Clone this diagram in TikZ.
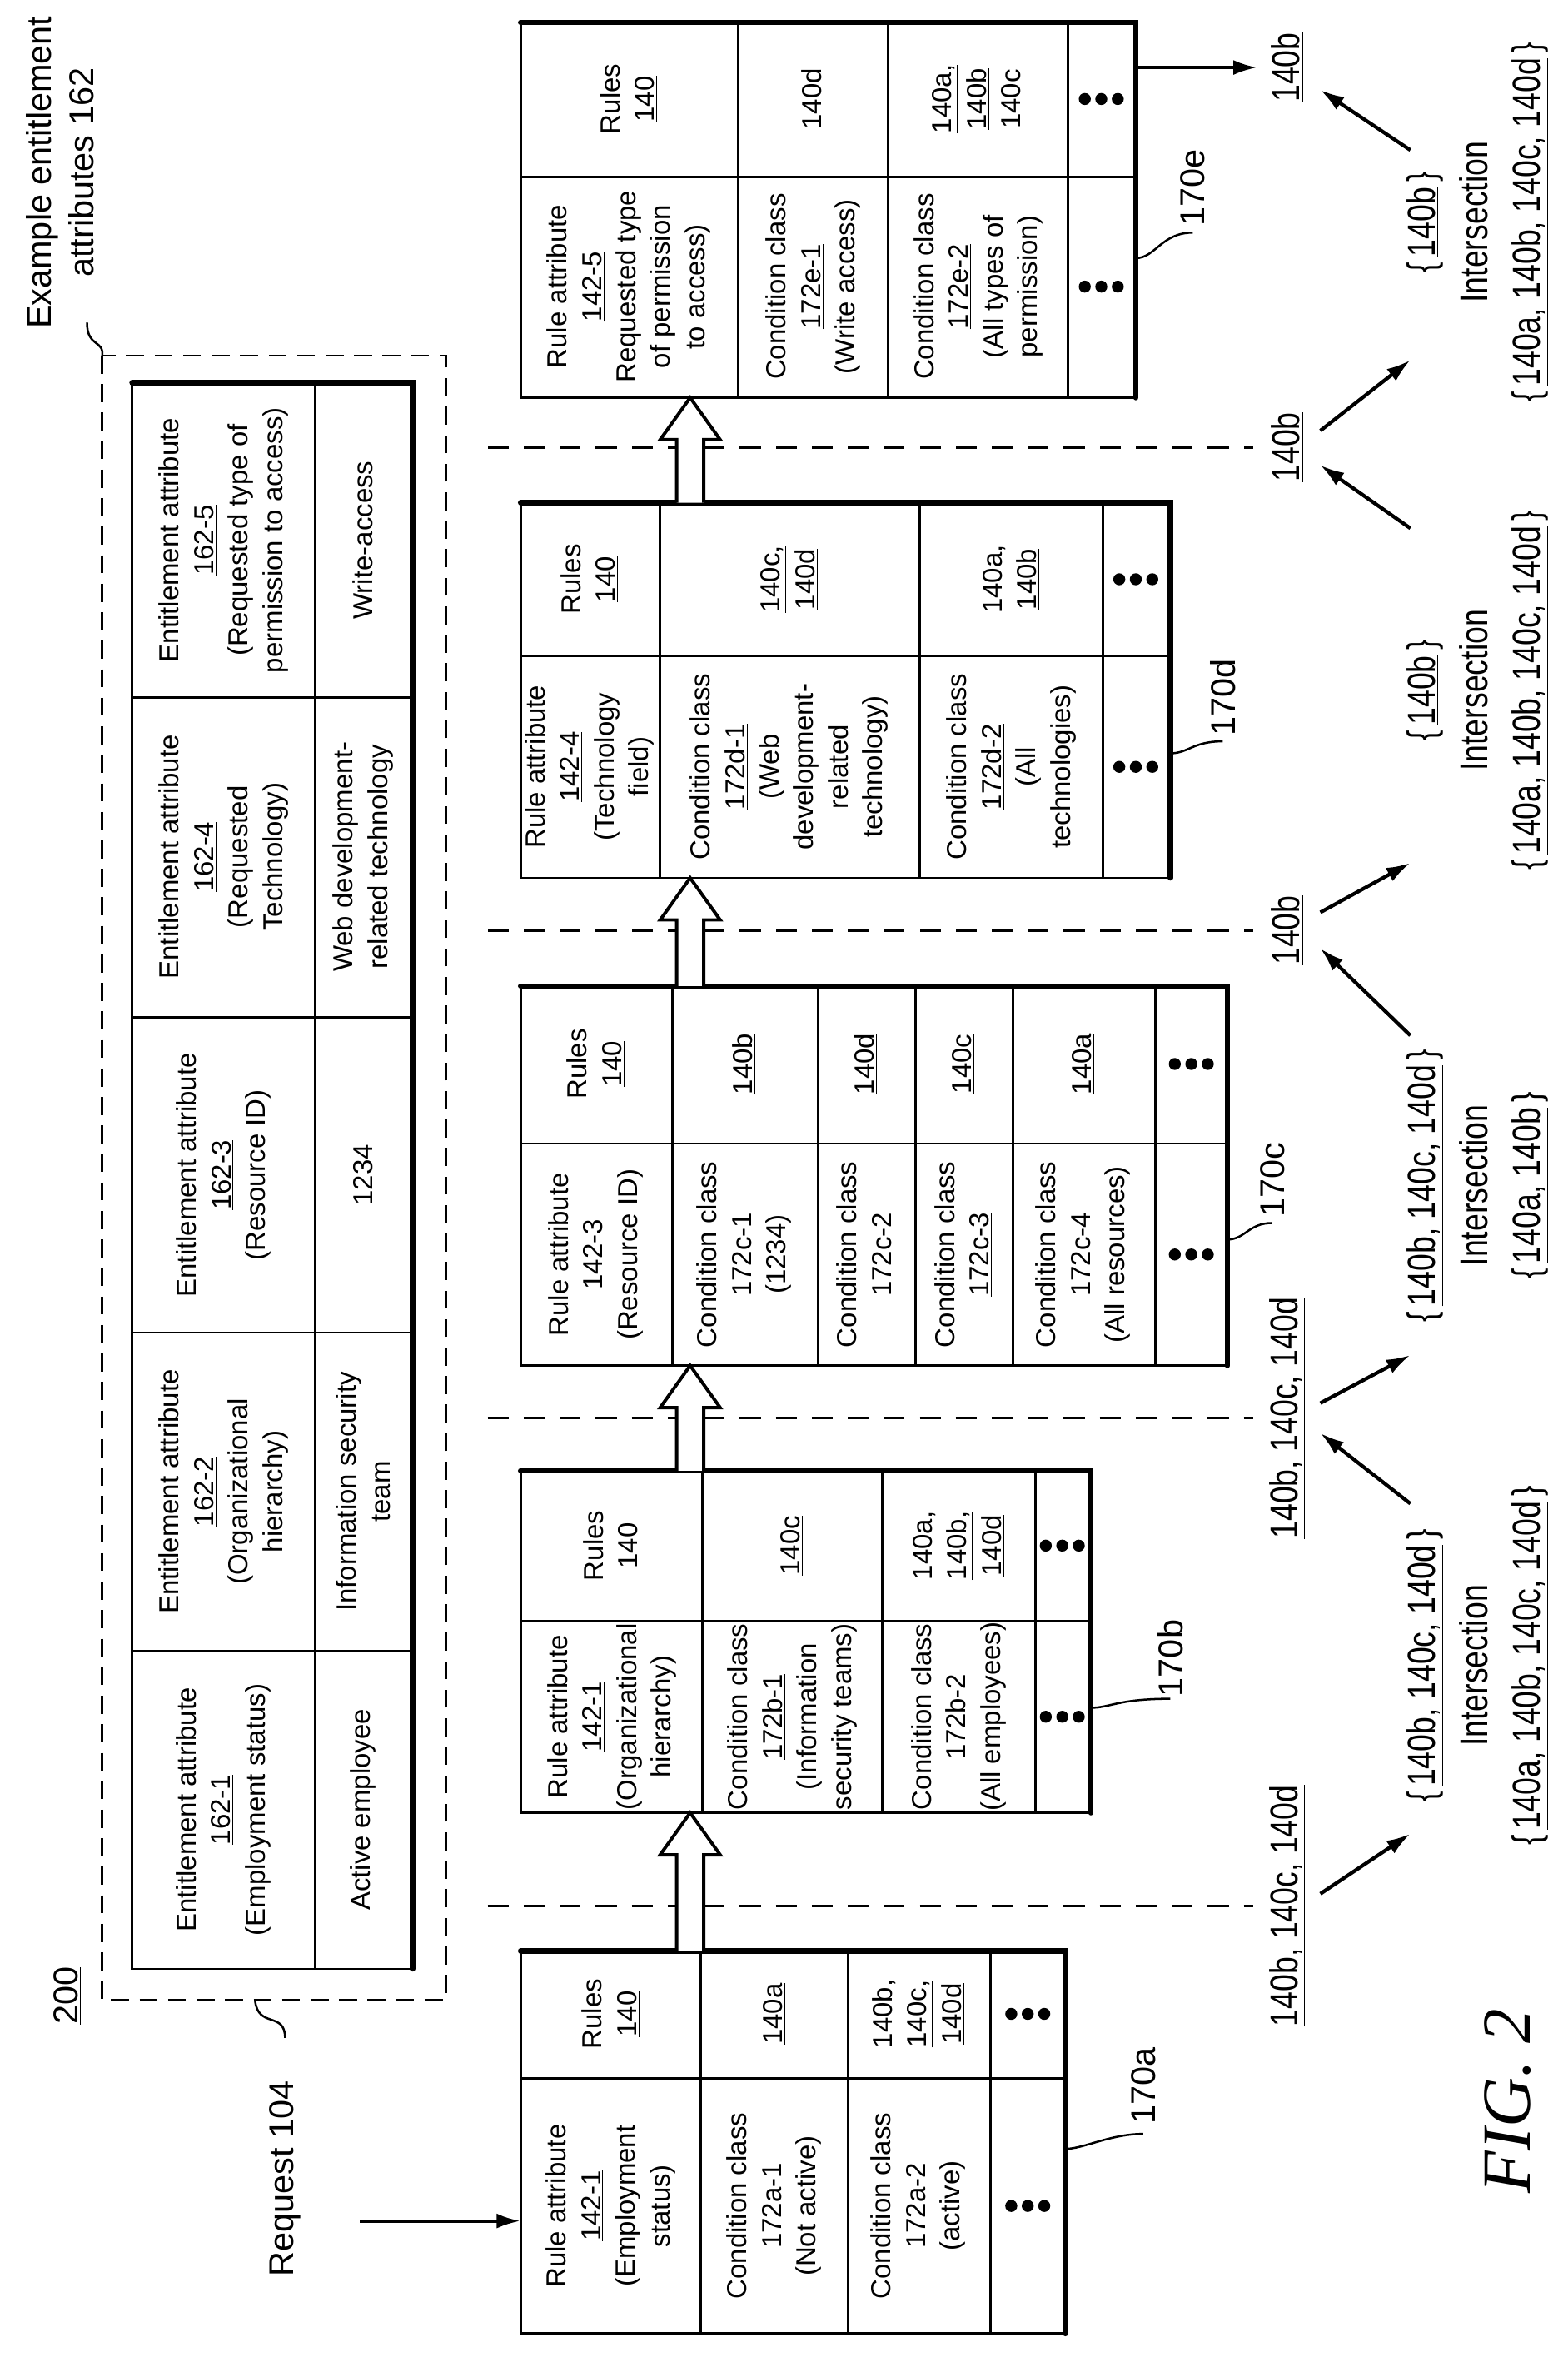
\documentclass[tikz,border=0pt]{standalone}
\usepackage{fontspec}
\usetikzlibrary{arrows.meta}
\setmainfont{Liberation Sans}
\newfontfamily\figfont{Liberation Serif}
\newcommand\nar[1]{\scalebox{0.8}[1]{#1}}
\newcommand\myu[1]{\underline{#1}}
\newcommand\blockarr[2]{\draw[line width=2.2pt,fill=white,line join=miter] (451,#1) -- (451,#2+28) -- (440,#2+28) -- (460,#2) -- (480,#2+28) -- (469,#2+28) -- (469,#1);}
\begin{document}
\begin{tikzpicture}[x=1pt,y=-1pt,
  cell/.style={rotate=90,align=center,font=\fontsize{18.3}{23}\selectfont,inner sep=0},
  lab/.style={rotate=90,align=center,font=\fontsize{26}{35}\selectfont,inner sep=1},
  thin/.style={line width=1.6pt},
  thk/.style={line width=3.6pt,line cap=round},
  arr/.style={line width=2.4pt,-{Latex[length=16pt,width=10pt]}},
  lead/.style={line width=1.4pt}]
\useasboundingbox (0,0) rectangle (1045,1574);
% ---------- 200, request ----------
\node[lab,font=\fontsize{23}{28}\selectfont] (n200) at (45,1330) {\myu{200}};
\node[lab,font=\fontsize{23}{28}\selectfont] (req) at (190,1452) {Request 104};
\coordinate (reqs) at (240,1480);
\coordinate (reqe) at (347,1480);
\draw[arr] (reqs) -- (reqe);
\draw[lead] (190,1358) .. controls (190,1340) and (172,1352) .. (170,1333);
% ---------- entitlement box ----------
\node[lab,font=\fontsize{23}{28}\selectfont] (ex) at (40,115) {Example entitlement\\attributes 162};
\draw[lead] (58,215) .. controls (58,232) and (70,226) .. (68,238);
\draw[line width=1.6pt,dash pattern=on 12pt off 7pt] (68,237) rectangle (297,1333);
\draw[thin] (88,255) rectangle (275,1312);
\draw[thin] (210,255) -- (210,1312);
\foreach \b in {1100,888,678,465} \draw[thin] (88,\b) -- (275,\b);
\draw[thk] (88,255) -- (275,255) -- (275,1312);
\node[cell] (e1h) at (149,1206) {Entitlement attribute\\\myu{162-1}\\(Employment status)};
\node[cell] (e1v) at (242,1206) {Active employee};
\node[cell] (e2h) at (149,994) {Entitlement attribute\\\myu{162-2}\\(Organizational\\hierarchy)};
\node[cell] (e2v) at (242,994) {Information security\\team};
\node[cell] (e3h) at (149,783) {Entitlement attribute\\\myu{162-3}\\(Resource ID)};
\node[cell] (e3v) at (242,783) {1234};
\node[cell] (e4h) at (149,571) {Entitlement attribute\\\myu{162-4}\\(Requested\\Technology)};
\node[cell] (e4v) at (242,571) {Web development-\\related technology};
\node[cell] (e5h) at (149,360) {Entitlement attribute\\\myu{162-5}\\(Requested type of\\permission to access)};
\node[cell] (e5v) at (242,360) {Write-access};
% ---------- dashed separators ----------
\foreach \y in {1270,945,620,298} \draw[line width=1.8pt,dash pattern=on 14pt off 10pt] (325,\y) -- (835,\y);
% ---------- table 170a ----------
\draw[thin] (347,1300) rectangle (710,1555);
\draw[thin] (347,1385) -- (710,1385);
\foreach \b in {467,565,660} \draw[thin] (\b,1300) -- (\b,1555);
\draw[thk] (347,1300) -- (710,1300) -- (710,1555);
\node[cell] (a0l) at (407,1470) {Rule attribute\\\myu{142-1}\\(Employment\\status)};
\node[cell] (a0r) at (407,1342) {Rules\\\myu{140}};
\node[cell] (a1l) at (516,1470) {Condition class\\\myu{172a-1}\\(Not active)};
\node[cell] (a1r) at (516,1342) {\myu{140a}};
\node[cell] (a2l) at (612,1470) {Condition class\\\myu{172a-2}\\(active)};
\node[cell] (a2r) at (612,1342) {\myu{140b,}\\\myu{140c,}\\\myu{140d}};
\foreach \d in {-11,0,11} {\fill (685+\d,1470) circle (4); \fill (685+\d,1342) circle (4);}
% ---------- table 170b ----------
\draw[thin] (347,980) rectangle (727,1208);
\draw[thin] (347,1080) -- (727,1080);
\foreach \b in {468,588,690} \draw[thin] (\b,980) -- (\b,1208);
\draw[thk] (347,980) -- (727,980) -- (727,1208);
\node[cell] (b0l) at (408,1144) {Rule attribute\\\myu{142-1}\\(Organizational\\hierarchy)};
\node[cell] (b0r) at (408,1030) {Rules\\\myu{140}};
\node[cell] (b1l) at (528,1144) {Condition class\\\myu{172b-1}\\(Information\\security teams)};
\node[cell] (b1r) at (528,1030) {\myu{140c}};
\node[cell] (b2l) at (639,1144) {Condition class\\\myu{172b-2}\\(All employees)};
\node[cell] (b2r) at (639,1030) {\myu{140a,}\\\myu{140b,}\\\myu{140d}};
\foreach \d in {-11,0,11} {\fill (708+\d,1144) circle (4); \fill (708+\d,1030) circle (4);}
% ---------- table 170c ----------
\draw[thin] (347,657) rectangle (818,910);
\draw[thin] (347,762) -- (818,762);
\foreach \b in {448,545,610,675,770} \draw[thin] (\b,657) -- (\b,910);
\draw[thk] (347,657) -- (818,657) -- (818,910);
\node[cell] (c0l) at (397,836) {Rule attribute\\\myu{142-3}\\(Resource ID)};
\node[cell] (c0r) at (397,709) {Rules\\\myu{140}};
\node[cell] (c1l) at (496,836) {Condition class\\\myu{172c-1}\\(1234)};
\node[cell] (c1r) at (496,709) {\myu{140b}};
\node[cell] (c2l) at (577,836) {Condition class\\\myu{172c-2}};
\node[cell] (c2r) at (577,709) {\myu{140d}};
\node[cell] (c3l) at (642,836) {Condition class\\\myu{172c-3}};
\node[cell] (c3r) at (642,709) {\myu{140c}};
\node[cell] (c4l) at (722,836) {Condition class\\\myu{172c-4}\\(All resources)};
\node[cell] (c4r) at (722,709) {\myu{140a}};
\foreach \d in {-11,0,11} {\fill (794+\d,836) circle (4); \fill (794+\d,709) circle (4);}
% ---------- table 170d ----------
\draw[thin] (347,335) rectangle (780,585);
\draw[thin] (347,437) -- (780,437);
\foreach \b in {440,613,735} \draw[thin] (\b,335) -- (\b,585);
\draw[thk] (347,335) -- (780,335) -- (780,585);
\node[cell] (d0l) at (393,511) {Rule attribute\\\myu{142-4}\\(Technology\\field)};
\node[cell] (d0r) at (393,386) {Rules\\\myu{140}};
\node[cell] (d1l) at (526,511) {Condition class\\\myu{172d-1}\\(Web\\development-\\related\\technology)};
\node[cell] (d1r) at (526,386) {\myu{140c,}\\\myu{140d}};
\node[cell] (d2l) at (674,511) {Condition class\\\myu{172d-2}\\(All\\technologies)};
\node[cell] (d2r) at (674,386) {\myu{140a,}\\\myu{140b}};
\foreach \d in {-11,0,11} {\fill (757+\d,511) circle (4); \fill (757+\d,386) circle (4);}
% ---------- table 170e ----------
\draw[thin] (347,15) rectangle (757,265);
\draw[thin] (347,118) -- (757,118);
\foreach \b in {492,592,712} \draw[thin] (\b,15) -- (\b,265);
\draw[thk] (347,15) -- (757,15) -- (757,265);
\node[cell] (f0l) at (419,191) {Rule attribute\\\myu{142-5}\\Requested type\\of permission\\to access)};
\node[cell] (f0r) at (419,66) {Rules\\\myu{140}};
\node[cell] (f1l) at (542,191) {Condition class\\\myu{172e-1}\\(Write access)};
\node[cell] (f1r) at (542,66) {\myu{140d}};
\node[cell] (f2l) at (652,191) {Condition class\\\myu{172e-2}\\(All types of\\permission)};
\node[cell] (f2r) at (652,66) {\myu{140a,}\\\myu{140b}\\\myu{140c}};
\foreach \d in {-11,0,11} {\fill (734+\d,191) circle (4); \fill (734+\d,66) circle (4);}
% ---------- block arrows ----------
\blockarr{1300}{1208}
\blockarr{980}{910}
\blockarr{657}{585}
\blockarr{335}{265}
% ---------- table labels ----------
\node[lab,font=\fontsize{23}{28}\selectfont] (la) at (762,1390) {170a};
\draw[lead] (710,1432) .. controls (722,1432) and (740,1422) .. (762,1422);
\node[lab,font=\fontsize{23}{28}\selectfont] (lb) at (780,1105) {170b};
\draw[lead] (727,1138) .. controls (740,1138) and (745,1132) .. (780,1132);
\node[lab,font=\fontsize{23}{28}\selectfont] (lc) at (848,786) {170c};
\draw[lead] (818,826) .. controls (830,826) and (832,815) .. (848,815);
\node[lab,font=\fontsize{23}{28}\selectfont] (ld) at (815,465) {170d};
\draw[lead] (780,502) .. controls (792,502) and (795,494) .. (815,494);
\node[lab,font=\fontsize{23}{28}\selectfont] (le) at (795,125) {170e};
\draw[lead] (757,172) .. controls (770,172) and (774,155) .. (795,155);
% ---------- bottom labels ----------
\node[lab] (L1) at (858,1270) {\nar{\myu{140b, 140c, 140d}}};
\node[lab] (L2) at (858,945) {\nar{\myu{140b, 140c, 140d}}};
\node[lab] (L3) at (858,620) {\nar{\myu{140b}}};
\node[lab] (L4) at (858,298) {\nar{\myu{140b}}};
\node[lab] (L5) at (858,45) {\nar{\myu{140b}}};
\coordinate (t5) at (838,45);
\draw[arr] (757,45) -- (t5);
\node[lab] (G1) at (985,1110) {\nar{\{\,\myu{140b, 140c, 140d}\,\}}\\\nar{Intersection}\\\nar{\{\,\myu{140a, 140b, 140c, 140d}\,\}}};
\node[lab] (G2) at (985,790) {\nar{\{\,\myu{140b, 140c, 140d}\,\}}\\\nar{Intersection}\\\nar{\{\,\myu{140a, 140b}\,\}}};
\node[lab] (G3) at (985,460) {\nar{\{\,\myu{140b}\,\}}\\\nar{Intersection}\\\nar{\{\,\myu{140a, 140b, 140c, 140d}\,\}}};
\node[lab] (G4) at (985,148) {\nar{\{\,\myu{140b}\,\}}\\\nar{Intersection}\\\nar{\{\,\myu{140a, 140b, 140c, 140d}\,\}}};
\draw[arr] (880,1262) -- (940,1222);
\draw[arr] (940,1002) -- (880,955);
\draw[arr] (880,935) -- (940,903);
\draw[arr] (940,690) -- (880,632);
\draw[arr] (880,608) -- (940,575);
\draw[arr] (940,352) -- (880,310);
\draw[arr] (880,287) -- (940,240);
\draw[arr] (940,100) -- (880,60);
% ---------- fig ----------
\node[rotate=90,font=\fontsize{46}{50}\selectfont\figfont\itshape] (fig) at (1005,1400) {FIG. 2};
\end{tikzpicture}
\end{document}
